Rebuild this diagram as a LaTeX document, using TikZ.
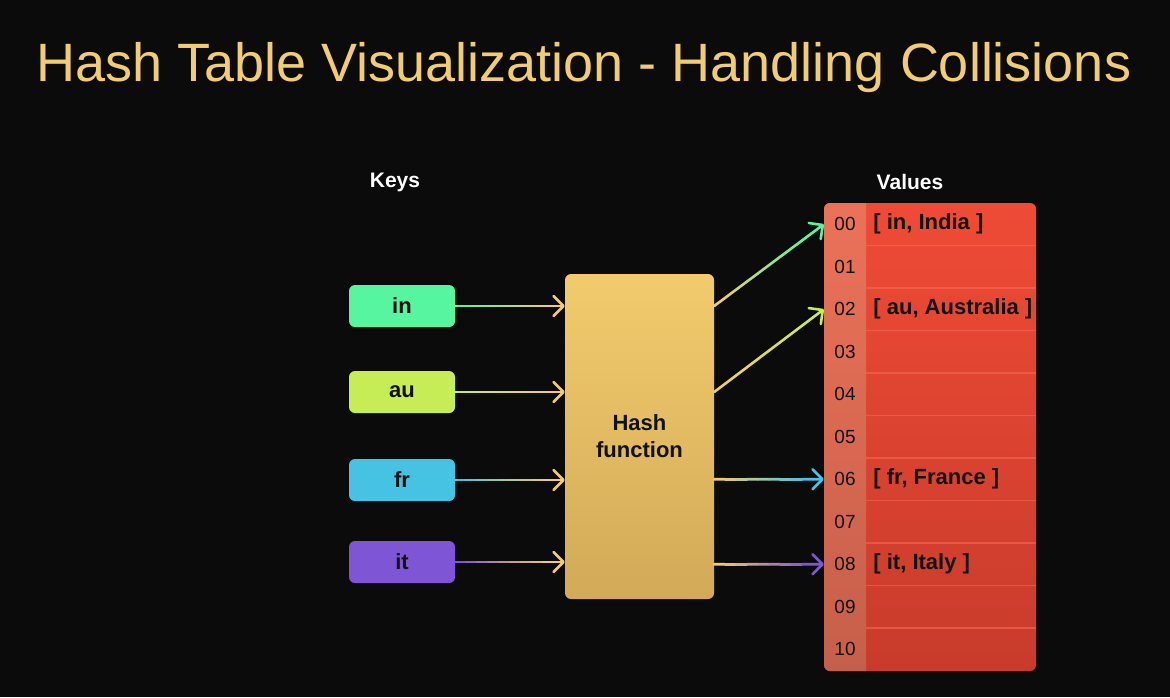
\documentclass[tikz,border=0pt]{standalone}
\usepackage{fontspec}
\setmainfont{Liberation Sans}
\usetikzlibrary{arrows.meta,calc,positioning}

\definecolor{bgdark}{HTML}{0B0B0C}
\definecolor{titlegold}{HTML}{F2CC72}
\definecolor{ink}{HTML}{121212}
\definecolor{keyin}{HTML}{57F5A0}
\definecolor{keyau}{HTML}{C6EC56}
\definecolor{keyfr}{HTML}{46C3E3}
\definecolor{keyit}{HTML}{7E56D5}
\definecolor{hashtop}{HTML}{F2CB6D}
\definecolor{hashbot}{HTML}{D2AA58}
\definecolor{valtop}{HTML}{EF4B36}
\definecolor{valbot}{HTML}{C83B2B}
\definecolor{idxtop}{HTML}{EB7259}
\definecolor{idxbot}{HTML}{C65F4A}
\definecolor{rowline}{HTML}{F46A55}

% gradient connector: from, to, start colour, end colour
\newcommand{\hasharrow}[4]{%
  \foreach \s in {0,...,8}{%
    \pgfmathtruncatemacro{\mixpc}{\s*12.5}
    \draw[line width=2.6pt, color=#4!\mixpc!#3] ($(#1)!\s/10!(#2)$) -- ($(#1)!\s/10+0.1!(#2)$);
  }
  \draw[line width=2.6pt, color=#4, -{Straight Barb[round,length=10pt,width=20pt]}] ($(#1)!0.9!(#2)$) -- (#2);
}

\begin{document}
\begin{tikzpicture}[x=1pt, y=-1pt, line cap=round, line join=round,
  keybox/.style={rounded corners=6pt, minimum width=106pt, minimum height=42pt, inner sep=0pt,
    font=\fontsize{22}{22}\selectfont\bfseries, text=ink},
  hashbox/.style={rounded corners=6pt, minimum width=149pt, minimum height=325pt, inner sep=0pt,
    top color=hashtop, bottom color=hashbot, align=center,
    font=\fontsize{22}{27}\selectfont\bfseries, text=ink},
  idx/.style={minimum width=42pt, minimum height=42.5pt, inner sep=0pt,
    font=\fontsize{19}{19}\selectfont, text=ink},
  val/.style={inner sep=0pt, font=\fontsize{22}{22}\selectfont\bfseries, text=ink},
  head/.style={font=\fontsize{21}{21}\selectfont\bfseries, text=white}]

  \useasboundingbox (0,0) rectangle (1170,697);
  \fill[bgdark] (0,0) rectangle (1170,697);

  \node[font=\fontsize{54}{54}\selectfont, text=titlegold] (title) at (584,68)
    {Hash Table Visualization - Handling Collisions};

  % keys
  \node[head] (keys) at (395,182) {Keys};
  \node[keybox, fill=keyin] (kin) at (402,306) {in};
  \node[keybox, fill=keyau] (kau) at (402,392) {au};
  \node[keybox, fill=keyfr] (kfr) at (402,480) {fr};
  \node[keybox, fill=keyit] (kit) at (402,562) {it};

  \node[hashbox] (hash) at (639.5,436.5) {Hash\\function};

  % table
  \node[head] (values) at (910,182) {Values};
  \shade[rounded corners=6pt, top color=valtop, bottom color=valbot] (824,203) rectangle (1036,671);
  \begin{scope}
    \clip[rounded corners=6pt] (824,203) rectangle (1036,671);
    \shade[top color=idxtop, bottom color=idxbot] (824,203) rectangle (866,671);
  \end{scope}
  \foreach \k in {1,...,10}
    \draw[rowline, opacity=0.6, line width=1.2pt, line cap=butt] (866,{203+42.5*\k}) -- (1036,{203+42.5*\k});
  \foreach \r [count=\k from 0] in {00,01,02,03,04,05,06,07,08,09,10}
    \node[idx] (r\r) at (845,{224.25+42.5*\k}) {\r};

  \node[val, anchor=west, right=7pt of r00] (v00) {[ in, India ]};
  \node[val, anchor=west, right=7pt of r02] (v02) {[ au, Australia ]};
  \node[val, anchor=west, right=7pt of r06] (v06) {[ fr, France ]};
  \node[val, anchor=west, right=7pt of r08] (v08) {[ it, Italy ]};

  % connectors
  \hasharrow{kin.east}{hash.west |- kin.east}{keyin}{hashtop}
  \hasharrow{kau.east}{hash.west |- kau.east}{keyau}{hashtop}
  \hasharrow{kfr.east}{hash.west |- kfr.east}{keyfr}{hashtop}
  \hasharrow{kit.east}{hash.west |- kit.east}{keyit}{hashtop}

  \hasharrow{hash.east |- kin.east}{r00.west}{hashtop}{keyin}
  \hasharrow{hash.east |- kau.east}{r02.west}{hashtop}{keyau}
  \hasharrow{hash.east |- r06.west}{r06.west}{hashtop}{keyfr}
  \hasharrow{hash.east |- r08.west}{r08.west}{hashtop}{keyit}
\end{tikzpicture}
\end{document}
